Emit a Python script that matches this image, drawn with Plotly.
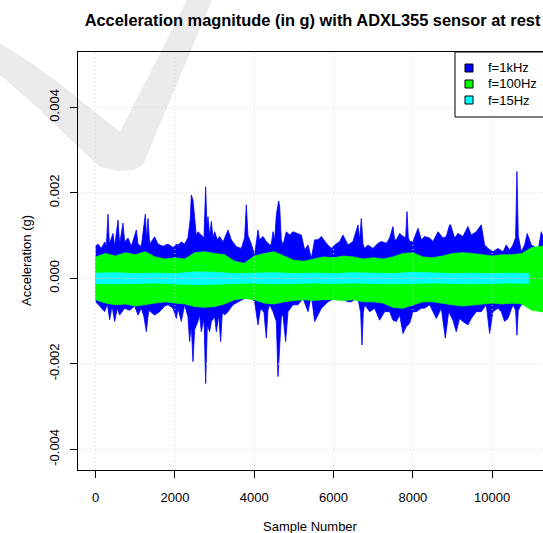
import numpy as np
import plotly.graph_objects as go

# ---------------- data (sample index, acceleration in milli-g) ----------------
x_ticks = [0, 2000, 4000, 6000, 8000, 10000]
y_ticks = [-0.004, -0.002, 0.0, 0.002, 0.004]
y_tick_text = ["-0.004", "-0.002", "0.000", "0.002", "0.004"]

series_names = ["f=1kHz", "f=100Hz", "f=15Hz"]
series_colors = ["#0000FF", "#00FF00", "#00FFFF"]

# f=1kHz : upper / lower envelope of the trace
blue_up_s = [0, 61, 145, 229, 271, 313, 346, 397, 439, 481, 565, 607, 691, 733, 817, 901, 1027, 1069,
             1153, 1254, 1288, 1321, 1363, 1489, 1573, 1700, 1826, 1952, 2036,
             2077, 2161, 2245, 2329, 2388, 2413, 2455, 2497, 2539, 2581, 2665, 2733, 2775, 2808, 2833,
             2875, 2918, 2960, 3002, 3069, 3128, 3212, 3338, 3422, 3548, 3674, 3758, 3800, 3842, 3926,
             4010, 4094, 4136, 4220, 4304, 4388,
             4431, 4473, 4515, 4557, 4616, 4641, 4683, 4725, 4809, 4893, 4977, 5103, 5188, 5272, 5356,
             5440, 5524, 5608, 5692, 5818, 5944, 6028, 6154, 6238, 6364, 6490, 6616,
             6658, 6700, 6742, 6784, 6868, 6994, 7120, 7204, 7330, 7414, 7498, 7540, 7583, 7667, 7751,
             7818, 7852, 7885, 7919, 8003, 8129, 8213, 8297, 8423, 8507, 8633, 8759, 8843, 8927,
             8951, 9052, 9136, 9262, 9388, 9472, 9598, 9724, 9809, 9893, 10019, 10145, 10271, 10355,
             10439, 10523, 10590, 10624, 10657, 10733, 10817, 10884, 10985, 11069, 11153, 11237, 11350]
blue_up_v = [0.75, 0.80, 0.70, 0.85, 0.75, 1.50, 0.80, 0.95, 1.05, 0.75, 1.36, 0.80, 1.29, 0.85, 0.94, 0.75, 1.13, 0.80,
             0.75, 1.50, 0.90, 1.40, 0.80, 0.97, 0.80, 0.75, 0.80, 0.72, 0.80,
             0.78, 0.85, 0.80, 0.95, 1.40, 1.95, 1.83, 1.48, 1.00, 1.09, 1.01, 0.95, 2.14, 1.20, 1.44,
             1.00, 1.33, 0.95, 1.09, 0.90, 0.98, 0.85, 1.13, 0.90, 0.74, 0.70, 0.95, 1.72, 1.00, 0.80,
             0.55, 1.13, 0.90, 0.98, 0.86, 0.78,
             0.80, 1.09, 0.90, 1.48, 1.81, 1.68, 0.90, 0.78, 1.09, 1.01, 1.09, 1.05, 1.01, 0.66, 0.78,
             0.47, 0.90, 0.90, 0.98, 0.82, 0.70, 0.78, 0.86, 1.01, 0.78, 0.86, 1.25,
             0.90, 1.40, 0.80, 0.70, 0.78, 0.70, 0.82, 0.86, 0.82, 0.94, 1.21, 0.90, 0.90, 1.05, 0.98,
             0.95, 1.56, 0.95, 0.86, 0.86, 1.17, 0.90, 0.98, 0.94, 0.86, 1.09, 0.94, 0.98, 1.25,
             1.25, 0.94, 1.05, 0.98, 1.21, 1.01, 1.09, 1.25, 0.78, 0.70, 0.62, 0.70, 0.62, 0.78,
             0.66, 0.78, 0.95, 2.50, 1.00, 0.62, 0.78, 1.05, 0.78, 0.74, 0.62, 1.09, 0.80]
blue_lo_s = [0, 103, 229, 296, 355, 414, 481, 548, 607, 733, 859, 985, 1069, 1153, 1220, 1279, 1338,
             1489, 1615, 1741, 1826, 1952, 2036,
             2077, 2161, 2245, 2329, 2371, 2413, 2455, 2497, 2581, 2623, 2665, 2733, 2775, 2817, 2875,
             2918, 3002, 3044, 3103, 3153, 3195, 3254, 3338, 3464, 3590, 3758, 3884, 4010, 4094, 4161,
             4245, 4304, 4346, 4388,
             4473, 4557, 4599, 4641, 4683, 4725, 4792, 4851, 4977, 5103, 5230, 5356, 5440, 5524, 5608,
             5692, 5776, 5860, 6028, 6196, 6364, 6448, 6574,
             6616, 6683, 6717, 6750, 6784, 6910, 7036, 7162, 7288, 7414, 7498, 7583, 7667, 7751, 7835,
             7919, 8003, 8087, 8213, 8297, 8423, 8591, 8717, 8818, 8902,
             9010, 9094, 9178, 9262, 9388, 9472, 9598, 9724, 9851, 9935, 10019, 10145, 10229, 10313,
             10397, 10523, 10590, 10624, 10657, 10733, 10901, 11027, 11153, 11279, 11350]
blue_lo_v = [-0.55, -0.65, -0.78, -0.60, -0.97, -0.65, -1.01, -0.70, -0.86, -0.70, -0.75, -0.65, -0.86, -0.70, -0.90, -1.25, -0.75,
             -0.86, -0.78, -0.65, -0.62, -0.70, -0.94,
             -0.70, -1.01, -0.62, -0.90, -1.48, -1.10, -1.95, -1.20, -1.01, -0.85, -1.25, -0.95, -2.46, -1.10, -1.25,
             -1.01, -0.90, -1.25, -0.85, -1.48, -0.80, -0.86, -0.78, -0.62, -0.55, -0.47, -0.40, -0.55, -1.09, -0.70,
             -0.80, -1.40, -0.75, -0.62,
             -0.78, -1.01, -2.30, -1.56, -0.90, -0.86, -1.48, -0.78, -0.62, -0.62, -0.47, -0.78, -0.40, -1.01, -0.86,
             -0.70, -0.62, -0.55, -0.47, -0.47, -0.55, -0.55, -0.47,
             -0.47, -0.80, -1.56, -0.80, -0.62, -0.78, -0.70, -0.98, -0.78, -0.78, -0.98, -1.01, -0.86, -1.29, -1.13,
             -1.05, -0.78, -0.78, -0.70, -0.70, -0.62, -0.94, -0.70, -1.40, -0.78,
             -0.98, -1.25, -0.94, -1.01, -1.09, -0.94, -0.78, -0.78, -0.62, -1.29, -0.78, -0.70, -0.78, -1.01,
             -0.94, -0.62, -0.75, -1.33, -0.75, -0.62, -0.55, -0.62, -0.70, -0.78, -0.78]

# f=100Hz : upper / lower envelope
green_s = [0, 250, 500, 750, 1000, 1250, 1500, 1750, 2000, 2250, 2500, 2750, 3000, 3250, 3500, 3750,
           4000, 4250, 4500, 4750, 5000, 5250, 5500, 5750, 6000, 6250, 6500, 6750, 7000, 7250, 7500,
           7750, 8000, 8250, 8500, 8750, 9000, 9250, 9500, 9750, 10000, 10250, 10500, 10750, 11000,
           11250, 11350]
green_up_v = [0.50, 0.58, 0.52, 0.60, 0.55, 0.62, 0.50, 0.45, 0.48, 0.45, 0.60, 0.62, 0.58, 0.55, 0.40, 0.35,
              0.52, 0.58, 0.62, 0.52, 0.42, 0.40, 0.45, 0.50, 0.48, 0.52, 0.50, 0.45, 0.48, 0.45, 0.50,
              0.58, 0.60, 0.50, 0.48, 0.52, 0.58, 0.60, 0.58, 0.55, 0.52, 0.55, 0.55, 0.58, 0.72,
              0.75, 0.75]
green_lo_v = [-0.50, -0.58, -0.62, -0.60, -0.65, -0.62, -0.58, -0.55, -0.58, -0.60, -0.66, -0.68, -0.66, -0.60, -0.50, -0.47,
              -0.50, -0.58, -0.60, -0.55, -0.52, -0.50, -0.52, -0.50, -0.50, -0.52, -0.50, -0.55, -0.55, -0.58, -0.68,
              -0.70, -0.62, -0.55, -0.55, -0.58, -0.62, -0.65, -0.62, -0.60, -0.58, -0.60, -0.58, -0.60, -0.75,
              -0.78, -0.78]

# f=15Hz : upper / lower envelope
cyan_s = [0, 500, 1000, 1500, 2000, 2500, 3000, 3500, 4000, 4500, 5000, 5500, 6000, 6500, 7000, 7500,
          8000, 8500, 9000, 9500, 10000, 10500, 10920]
cyan_up_v = [0.12, 0.13, 0.11, 0.12, 0.11, 0.15, 0.14, 0.11, 0.12, 0.13, 0.11, 0.12, 0.11, 0.13, 0.12, 0.11,
             0.14, 0.12, 0.11, 0.12, 0.11, 0.12, 0.11]
cyan_lo_v = [-0.12, -0.13, -0.12, -0.11, -0.13, -0.15, -0.13, -0.12, -0.11, -0.13, -0.12, -0.11, -0.12, -0.11, -0.12, -0.13,
             -0.12, -0.11, -0.12, -0.13, -0.12, -0.11, -0.12]

# ---------------- geometry (pixels) ----------------
W, H = 543, 533
L, R, T, B = 78, 543, 52, 470
PX0, PX_PER_SAMPLE = 95.6, 0.03966      # x pixel of sample 0, pixels per sample
PY0, PY_PER_G = 278.3, 42750.0          # y pixel of 0 g, pixels per g


def fx(px):
    return (px - L) / (R - L)


def fy(py):
    return (B - py) / (B - T)


x_range = [(L - PX0) / PX_PER_SAMPLE, (R - PX0) / PX_PER_SAMPLE]
y_range = [(PY0 - B) / PY_PER_G, (PY0 - T) / PY_PER_G]

FONT = "Liberation Sans, Arial, Helvetica, sans-serif"


def band(up_s, up_v, lo_s, lo_v):
    xs = list(up_s) + list(lo_s)[::-1]
    ys = (np.array(list(up_v) + list(lo_v)[::-1]) / 1000.0).tolist()
    return xs, ys


fig = go.Figure()
bands = [
    band(blue_up_s, blue_up_v, blue_lo_s, blue_lo_v),
    band(green_s, green_up_v, green_s, green_lo_v),
    band(cyan_s, cyan_up_v, cyan_s, cyan_lo_v),
]
for (xs, ys), name, col in zip(bands, series_names, series_colors):
    fig.add_trace(go.Scatter(x=xs, y=ys, mode="lines", fill="toself", fillcolor=col,
                             line=dict(color=col, width=0.8), name=name,
                             showlegend=False, hoverinfo="skip"))

shapes = []
# watermark (light grey check mark) behind everything
wm = [(-5, 40), (0, 43), (30, 62), (60, 84), (90, 108), (120, 132), (193, -12), (217, -12),
      (143, 165), (133, 170), (118, 171), (100, 167), (70, 139), (40, 110), (15, 88), (0, 75), (-5, 72)]
path = "M " + " L ".join(f"{fx(a):.5f},{fy(b):.5f}" for a, b in wm) + " Z"
shapes.append(dict(type="path", xref="paper", yref="paper", path=path,
                   fillcolor="#ebebeb", line=dict(width=0), layer="below"))

# dotted grid drawn on top of the data (as R's grid())
for xv in x_ticks:
    shapes.append(dict(type="line", xref="x", yref="paper", x0=xv, x1=xv, y0=0, y1=1,
                       line=dict(color="#d3d3d3", width=1, dash="1px,3px"), layer="above"))
for yv in y_ticks:
    shapes.append(dict(type="line", xref="paper", yref="y", x0=0, x1=1, y0=yv, y1=yv,
                       line=dict(color="#d3d3d3", width=1, dash="1px,3px"), layer="above"))

# legend box
shapes.append(dict(type="rect", xref="paper", yref="paper", x0=fx(455), x1=fx(600),
                   y0=fy(117), y1=fy(52), fillcolor="white", line=dict(color="black", width=1),
                   layer="above"))
annotations = []
row_y = [68, 84, 100]
for name, col, ry in zip(series_names, series_colors, row_y):
    shapes.append(dict(type="rect", xref="paper", yref="paper", x0=fx(465), x1=fx(473),
                       y0=fy(ry + 4), y1=fy(ry - 4), fillcolor=col,
                       line=dict(color="black", width=1), layer="above"))
    annotations.append(dict(text=name, xref="paper", yref="paper", x=fx(486), y=fy(ry),
                            xanchor="left", yanchor="middle", showarrow=False,
                            font=dict(family=FONT, size=13, color="black")))

# axis titles
annotations.append(dict(text="Sample Number", xref="paper", yref="paper", x=0.5, y=fy(526),
                        xanchor="center", yanchor="middle", showarrow=False,
                        font=dict(family=FONT, size=13, color="black")))
annotations.append(dict(text="Acceleration (g)", xref="paper", yref="paper", x=fx(26), y=0.5,
                        xanchor="center", yanchor="middle", showarrow=False, textangle=-90,
                        font=dict(family=FONT, size=13, color="black")))

fig.update_layout(
    width=W, height=H,
    margin=dict(l=L, r=W - R, t=T, b=H - B, pad=0),
    paper_bgcolor="white", plot_bgcolor="white",
    title=dict(text="<b>Acceleration magnitude (in g) with ADXL355 sensor at rest</b>",
               xref="paper", x=fx(312.5), xanchor="center",
               yref="container", y=1 - 20 / H, yanchor="middle",
               font=dict(family=FONT, size=16.4, color="black")),
    shapes=shapes, annotations=annotations,
    showlegend=False,
    font=dict(family=FONT, size=13, color="black"),
)
fig.update_xaxes(range=x_range, tickvals=x_ticks, ticktext=[str(v) for v in x_ticks],
                 showgrid=False, zeroline=False, showline=True, mirror=True,
                 linecolor="black", linewidth=1, ticks="outside", ticklen=7,
                 tickcolor="black", tickfont=dict(family=FONT, size=13, color="black"),
                 ticklabelstandoff=8)
fig.update_yaxes(range=y_range, tickvals=y_ticks, ticktext=y_tick_text,
                 showgrid=False, zeroline=False, showline=True, mirror=False,
                 linecolor="black", linewidth=1, ticks="outside", ticklen=7,
                 tickcolor="black", tickangle=-90,
                 tickfont=dict(family=FONT, size=13, color="black"),
                 ticklabelstandoff=6)

fig.write_html("out.html", config={"displayModeBar": False},
               post_script="document.body.style.margin='0';document.body.style.overflow='hidden';")
